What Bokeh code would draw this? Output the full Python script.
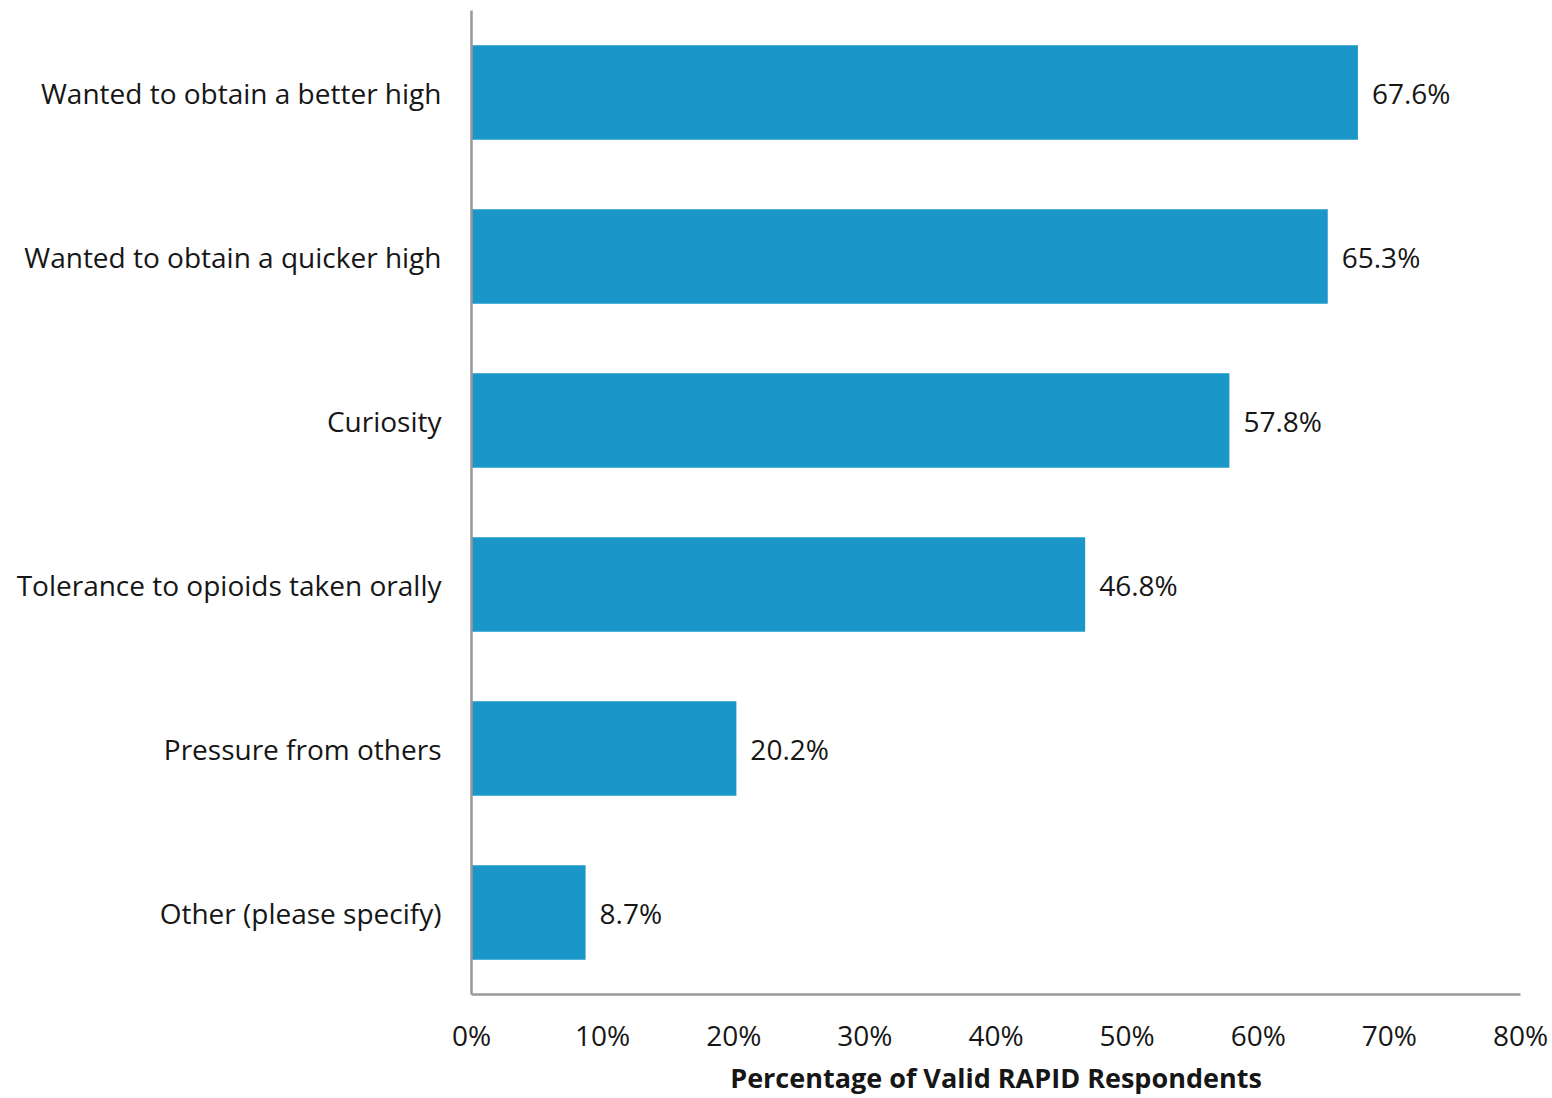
from bokeh.plotting import figure
from bokeh.models import FactorRange, Range1d, FixedTicker, PrintfTickFormatter, ColumnDataSource
from bokeh.core.properties import value
from bokeh.embed import file_html
from bokeh.resources import INLINE

categories = [
    "Wanted to obtain a better high",
    "Wanted to obtain a quicker high",
    "Curiosity",
    "Tolerance to opioids taken orally",
    "Pressure from others",
    "Other (please specify)",
]
percentages = [67.6, 65.3, 57.8, 46.8, 20.2, 8.7]
labels = [f"{v:.1f}%" for v in percentages]
x_ticks = [0, 10, 20, 30, 40, 50, 60, 70, 80]

FONT = "Open Sans"
TXT = "#161616"

src = ColumnDataSource(dict(cat=categories, val=percentages, lab=labels))

p = figure(
    width=1552, height=1098,
    y_range=FactorRange(*categories[::-1], range_padding=0),
    x_range=Range1d(0, 80),
    output_backend="svg", toolbar_location=None,
    min_border_left=471, min_border_right=32, min_border_top=10, min_border_bottom=0,
)
p.hbar(y="cat", right="val", left=0, height=0.575, source=src, color="#1a96c9", line_color=None)
p.text(x="val", y="cat", text="lab", source=src, x_offset=14, text_baseline="middle",
       text_align="left", text_font=value(FONT), text_font_size="28px", text_color=TXT)

p.xgrid.visible = False
p.ygrid.visible = False
p.outline_line_color = None

p.xaxis.ticker = FixedTicker(ticks=x_ticks)
p.xaxis.formatter = PrintfTickFormatter(format="%d%%")
p.xaxis.major_tick_line_color = None
p.xaxis.minor_tick_line_color = None
p.xaxis.axis_line_color = "#999999"
p.xaxis.axis_line_width = 2.5
p.xaxis.major_label_standoff = 15
p.xaxis.major_label_text_font = FONT
p.xaxis.major_label_text_font_size = "28px"
p.xaxis.major_label_text_color = TXT
p.xaxis.axis_label = "Percentage of Valid RAPID Respondents"
p.xaxis.axis_label_text_font = FONT
p.xaxis.axis_label_text_font_size = "27px"
p.xaxis.axis_label_text_font_style = "bold"
p.xaxis.axis_label_text_color = TXT
p.xaxis.axis_label_standoff = 2

p.yaxis.major_tick_line_color = None
p.yaxis.minor_tick_line_color = None
p.yaxis.axis_line_color = "#999999"
p.yaxis.axis_line_width = 2.5
p.yaxis.major_label_standoff = 24
p.yaxis.major_label_text_font = FONT
p.yaxis.major_label_text_font_size = "28px"
p.yaxis.major_label_text_color = TXT

open("out.html", "w").write(file_html(p, INLINE))
